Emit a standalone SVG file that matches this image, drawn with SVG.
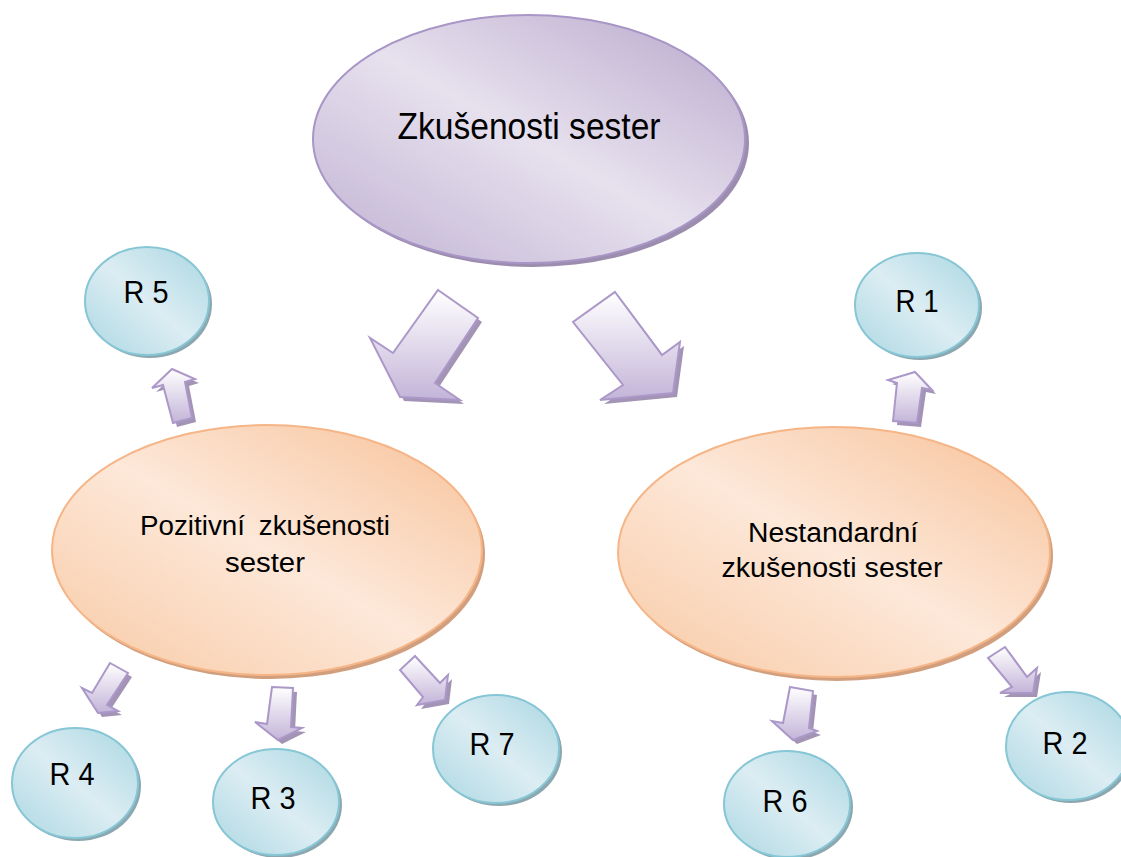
<svg xmlns="http://www.w3.org/2000/svg" width="1121" height="857" viewBox="0 0 1121 857">
<defs>
<linearGradient id="gPurple" x1="1" y1="0" x2="0" y2="1">
<stop offset="0" stop-color="#b8a7cb"/>
<stop offset="0.5" stop-color="#e7e1ee"/>
<stop offset="1" stop-color="#bfb1d2"/>
</linearGradient>
<linearGradient id="gOrange" x1="1" y1="0" x2="0" y2="1">
<stop offset="0" stop-color="#f7c198"/>
<stop offset="0.5" stop-color="#fde8d9"/>
<stop offset="1" stop-color="#f8c9a4"/>
</linearGradient>
<linearGradient id="gBlue" x1="1" y1="0" x2="0" y2="1">
<stop offset="0" stop-color="#a9d6e1"/>
<stop offset="0.5" stop-color="#dcedf3"/>
<stop offset="1" stop-color="#acd7e2"/>
</linearGradient>
<linearGradient id="gArrow" x1="0" y1="0" x2="0" y2="1">
<stop offset="0" stop-color="#ffffff"/>
<stop offset="1" stop-color="#c3b4d8"/>
</linearGradient>
</defs>
<style>
.txt{font-family:"Liberation Sans",Arial,sans-serif;fill:#000;text-anchor:middle}
.pShadow{fill:#9c8dae}
.pFill{fill:url(#gPurple);stroke:#a896c6;stroke-width:2}
.oShadow{fill:#d29f7e}
.oFill{fill:url(#gOrange);stroke:#f5b587;stroke-width:2}
.bShadow{fill:#8ca7af}
.bFill{fill:url(#gBlue);stroke:#86c6d5;stroke-width:2}
.aShadow{fill:#a394b5}
.aFill{fill:url(#gArrow);stroke:#ab98c9;stroke-width:2;stroke-linejoin:miter}
</style>
<rect width="1121" height="857" fill="#ffffff"/>
<g id="node-zkusenosti">
<ellipse class="pShadow" cx="533" cy="143" rx="216" ry="124"/>
<ellipse class="pFill" cx="529" cy="139" rx="216" ry="124"/>
<text class="txt" x="529" y="139" font-size="37" textLength="263" lengthAdjust="spacingAndGlyphs">Zkušenosti sester</text>
</g>
<g id="node-pozitivni">
<ellipse class="oShadow" cx="270" cy="554" rx="215" ry="125"/>
<ellipse class="oFill" cx="267" cy="550" rx="215" ry="125"/>
<text class="txt" x="265" y="535" font-size="27" word-spacing="6" textLength="250" lengthAdjust="spacingAndGlyphs">Pozitivní zkušenosti</text>
<text class="txt" x="265" y="572" font-size="27" textLength="80" lengthAdjust="spacingAndGlyphs">sester</text>
</g>
<g id="node-nestandardni">
<ellipse class="oShadow" cx="837" cy="556" rx="216" ry="125"/>
<ellipse class="oFill" cx="834" cy="552" rx="216" ry="125"/>
<text class="txt" x="833" y="542" font-size="27" textLength="170" lengthAdjust="spacingAndGlyphs">Nestandardní</text>
<text class="txt" x="832" y="577" font-size="27" textLength="221" lengthAdjust="spacingAndGlyphs">zkušenosti sester</text>
</g>
<g id="node-r5">
<ellipse class="bShadow" cx="150" cy="304" rx="62" ry="54"/>
<ellipse class="bFill" cx="147" cy="301" rx="62" ry="54"/>
<text class="txt" x="146" y="303" font-size="31" textLength="45" lengthAdjust="spacingAndGlyphs">R 5</text>
</g>
<g id="node-r1">
<ellipse class="bShadow" cx="920" cy="308" rx="62" ry="52"/>
<ellipse class="bFill" cx="917" cy="305" rx="62" ry="52"/>
<text class="txt" x="917" y="312" font-size="31" textLength="43" lengthAdjust="spacingAndGlyphs">R 1</text>
</g>
<g id="node-r4">
<ellipse class="bShadow" cx="78" cy="786" rx="63" ry="55"/>
<ellipse class="bFill" cx="75" cy="783" rx="63" ry="55"/>
<text class="txt" x="72" y="785" font-size="31" textLength="45" lengthAdjust="spacingAndGlyphs">R 4</text>
</g>
<g id="node-r3">
<ellipse class="bShadow" cx="279" cy="805" rx="63" ry="53"/>
<ellipse class="bFill" cx="276" cy="802" rx="63" ry="53"/>
<text class="txt" x="273" y="809" font-size="31" textLength="45" lengthAdjust="spacingAndGlyphs">R 3</text>
</g>
<g id="node-r7">
<ellipse class="bShadow" cx="499" cy="752" rx="63" ry="54"/>
<ellipse class="bFill" cx="496" cy="749" rx="63" ry="54"/>
<text class="txt" x="492" y="755" font-size="31" textLength="45" lengthAdjust="spacingAndGlyphs">R 7</text>
</g>
<g id="node-r6">
<ellipse class="bShadow" cx="790" cy="807" rx="63" ry="53"/>
<ellipse class="bFill" cx="787" cy="804" rx="63" ry="53"/>
<text class="txt" x="785" y="812" font-size="31" textLength="45" lengthAdjust="spacingAndGlyphs">R 6</text>
</g>
<g id="node-r2">
<ellipse class="bShadow" cx="1071" cy="749" rx="62" ry="54"/>
<ellipse class="bFill" cx="1068" cy="746" rx="62" ry="54"/>
<text class="txt" x="1065" y="754" font-size="31" textLength="45" lengthAdjust="spacingAndGlyphs">R 2</text>
</g>
<g id="connectors">
<g transform="translate(4,4)">
<polygon class="aShadow" points="438,290 478,318 435,383 460,400 400,397 370,338 393,353"/>
<polygon class="aShadow" points="615,292 662,355 680,342 673,393 600,400 623,385 573,322"/>
<polygon class="aShadow" points="172,369 195,379 185,382 192,418 173,423 163,385 152,388"/>
<polygon class="aShadow" points="915,372 932,390 922,388 917,423 893,421 897,383 888,380"/>
<polygon class="aShadow" points="110,663 128,673 107,705 118,711 98,713 82,688 92,693"/>
<polygon class="aShadow" points="272,687 293,688 291,727 302,728 278,740 255,722 267,724"/>
<polygon class="aShadow" points="415,656 440,683 448,675 445,700 417,705 423,697 400,670"/>
<polygon class="aShadow" points="790,687 813,691 809,728 817,731 793,740 772,721 783,723"/>
<polygon class="aShadow" points="1005,647 1027,677 1037,668 1033,693 1000,693 1012,687 988,658"/>
</g>
<polygon class="aFill" points="438,290 478,318 435,383 460,400 400,397 370,338 393,353"/>
<polygon class="aFill" points="615,292 662,355 680,342 673,393 600,400 623,385 573,322"/>
<polygon class="aFill" points="172,369 195,379 185,382 192,418 173,423 163,385 152,388"/>
<polygon class="aFill" points="915,372 932,390 922,388 917,423 893,421 897,383 888,380"/>
<polygon class="aFill" points="110,663 128,673 107,705 118,711 98,713 82,688 92,693"/>
<polygon class="aFill" points="272,687 293,688 291,727 302,728 278,740 255,722 267,724"/>
<polygon class="aFill" points="415,656 440,683 448,675 445,700 417,705 423,697 400,670"/>
<polygon class="aFill" points="790,687 813,691 809,728 817,731 793,740 772,721 783,723"/>
<polygon class="aFill" points="1005,647 1027,677 1037,668 1033,693 1000,693 1012,687 988,658"/>
</g>
</svg>
